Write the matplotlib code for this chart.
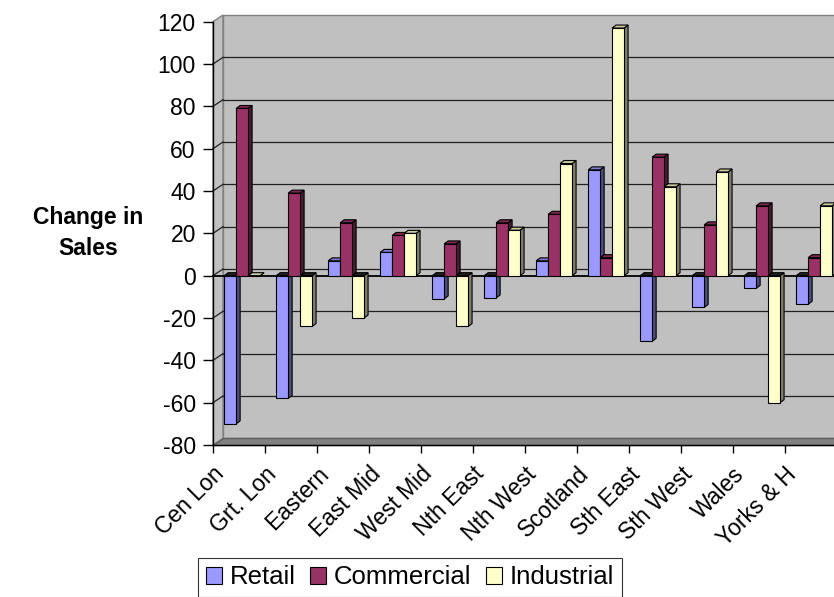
import matplotlib.pyplot as plt
from matplotlib.patches import Polygon
from matplotlib.transforms import ScaledTranslation

plt.rcParams['font.family'] = ['Liberation Sans', 'DejaVu Sans']
plt.rcParams['axes.unicode_minus'] = False

# data
regions = ['Cen Lon', 'Grt. Lon', 'Eastern', 'East Mid', 'West Mid', 'Nth East',
           'Nth West', 'Scotland', 'Sth East', 'Sth West', 'Wales', 'Yorks & H']
retail = [-70, -58, 7, 11, -11, -10.5, 7, 50, -31, -15, -6, -13.5]
commercial = [79, 39, 25, 19, 15, 25, 29, 8.5, 56, 24, 33, 8.5]
industrial = [0, -24, -20, 20, -24, 21.5, 53, 117, 42, 49, -60, 33]
series_names = ['Retail', 'Commercial', 'Industrial']
y_ticks = list(range(-80, 121, 20))

face_colors = ['#9999FF', '#993366', '#FFFFCC']
side_colors = ['#4D4D80', '#4D1A33', '#80806A']
top_colors = ['#7A7ACC', '#7A2952', '#CCCCA3']

W, H = 834, 597
fig = plt.figure(figsize=(W / 100, H / 100), dpi=100)
fig.patch.set_facecolor('white')

# front plane of the plot in pixels
x0, x1 = 213, 837
y_top, y_bot = 21.7, 445
ax = fig.add_axes([x0 / W, 1 - y_bot / H, (x1 - x0) / W, (y_bot - y_top) / H])
n = len(regions)
ax.set_xlim(-0.5, n - 0.5)
ax.set_ylim(-80, 120)
ax.patch.set_visible(False)

px_x = (x1 - x0) / n
px_y = (y_bot - y_top) / 200.0
# 3d depth offsets in data units
wdx, wdy = 10 / px_x, 6.7 / px_y
bdx, bdy = 4 / px_x, 3 / px_y
xl, xr = -0.5, n + 0.5

# back wall, side wall and floor
ax.add_patch(Polygon([(xl + wdx, -80 + wdy), (xr, -80 + wdy), (xr, 120 + wdy), (xl + wdx, 120 + wdy)],
                     closed=True, facecolor='#C0C0C0', edgecolor='#808080', lw=1, zorder=0.5, clip_on=False))
ax.add_patch(Polygon([(xl, -80), (xl, 120), (xl + wdx, 120 + wdy), (xl + wdx, -80 + wdy)],
                     closed=True, facecolor='#C0C0C0', edgecolor='#808080', lw=1, zorder=0.5, clip_on=False))
ax.add_patch(Polygon([(xl, -80), (xr, -80), (xr, -80 + wdy), (xl + wdx, -80 + wdy)],
                     closed=True, facecolor='#808080', edgecolor='#606060', lw=1, zorder=0.7, clip_on=False))
for v in y_ticks[1:-1]:
    ax.plot([xl + wdx, xr], [v + wdy, v + wdy], color='#202020', lw=0.9, zorder=0.6, clip_on=False)
    ax.plot([xl, xl + wdx], [v, v + wdy], color='#202020', lw=0.9, zorder=0.6, clip_on=False)
# zero plane front edge
ax.plot([xl, xr], [0, 0], color='black', lw=1.3, zorder=1, clip_on=False)

# bars
offsets = [-0.17, 0.06, 0.29]
width = 0.23
containers = []
for j, (vals, name) in enumerate(zip([retail, commercial, industrial], series_names)):
    xs = [i + offsets[j] for i in range(n)]
    bc = ax.bar(xs, vals, width=width, color=face_colors[j], edgecolor='black',
                linewidth=0.8, label=name)
    containers.append(bc)

for i in range(n):
    for j in range(3):
        k = i * 3 + j
        p = containers[j].patches[i]
        bx0 = p.get_x()
        bx1 = bx0 + p.get_width()
        v = p.get_height() + p.get_y()
        top = max(v, 0)
        base = min(v, 0)
        z = 2 + 0.01 * k
        p.set_zorder(z + 0.005)
        ax.add_patch(Polygon([(bx1, base), (bx1, top), (bx1 + bdx, top + bdy), (bx1 + bdx, base + bdy)],
                             closed=True, facecolor=side_colors[j], edgecolor='black', lw=0.8, zorder=z))
        tc = top_colors[j] if v >= 0 else '#202020'
        ax.add_patch(Polygon([(bx0, top), (bx1, top), (bx1 + bdx, top + bdy), (bx0 + bdx, top + bdy)],
                             closed=True, facecolor=tc, edgecolor='black', lw=0.8, zorder=z))

# axes styling
for s in ['top', 'right']:
    ax.spines[s].set_visible(False)
ax.spines['left'].set_linewidth(1)
ax.spines['bottom'].set_linewidth(1)
ax.spines['left'].set_zorder(3)
ax.spines['bottom'].set_zorder(3)

ax.set_yticks(y_ticks)
ax.tick_params(axis='y', length=7, width=1, pad=5.4, labelsize=16.5)

ax.set_xticks([i - 0.5 for i in range(n + 1)])
ax.set_xticklabels([])
ax.set_xticks(range(n), minor=True)
ax.set_xticklabels(regions, minor=True, rotation=45, ha='right', va='center',
                   rotation_mode='anchor', fontsize=16.5)
ax.tick_params(axis='x', which='major', length=6, width=1)
ax.tick_params(axis='x', which='minor', length=0, pad=18.5)
shift = ScaledTranslation(-18 / 100, 0, fig.dpi_scale_trans)
for lab in ax.get_xticklabels(minor=True):
    lab.set_transform(lab.get_transform() + shift)

fig.text(88 / W, 1 - 233 / H, 'Change in\nSales', ha='center', va='center',
         fontsize=16.5, fontweight='bold', linespacing=1.4)

leg = fig.legend(handles=containers, labels=series_names, loc='center',
                 bbox_to_anchor=(410 / W, 1 - 577.5 / H), ncol=3, fontsize=18.5,
                 frameon=True, fancybox=False, edgecolor='black', shadow=False,
                 handlelength=0.62, handleheight=0.62, handletextpad=0.31,
                 columnspacing=0.55, borderpad=0.3, borderaxespad=0)
leg.get_frame().set_linewidth(0.8)

fig.savefig('out.png', dpi=100)
